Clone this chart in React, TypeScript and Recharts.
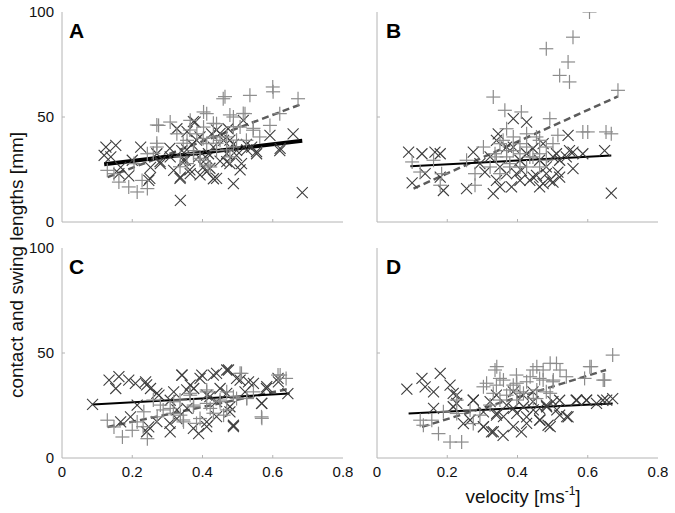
import React from "react";
import { ScatterChart, Scatter, XAxis, YAxis, ReferenceLine } from "recharts";

type Pt = [number, number];

// velocity [m/s], length [mm]
const aCross: Pt[] = [
  [0.12, 31.7], [0.153, 36.5], [0.139, 31], [0.167, 26], [0.224, 35.7], [0.19, 22], [0.247, 19.8],
  [0.27, 32.5], [0.28, 27.8], [0.337, 10.3], [0.327, 44.4], [0.341, 34], [0.351, 29.4], [0.337, 21.4],
  [0.379, 47.6], [0.393, 40.5], [0.403, 26.2], [0.417, 32.5], [0.431, 20.6], [0.44, 43.7], [0.46, 38.9],
  [0.469, 32.5], [0.488, 18.3], [0.478, 27.8], [0.511, 27.8], [0.516, 48.4], [0.554, 32.5], [0.592, 41.3],
  [0.62, 34], [0.658, 42], [0.684, 14], [0.365, 23], [0.389, 31], [0.412, 24], [0.45, 29], [0.488, 37],
  [0.525, 37], [0.308, 31], [0.318, 24.6], [0.252, 26], [0.2, 29.4], [0.162, 23], [0.125, 35.7],
  [0.356, 43], [0.426, 42], [0.37, 37], [0.431, 35.7], [0.497, 31.7], [0.54, 35.7], [0.473, 44.4],
  [0.374, 47.8], [0.345, 29.5], [0.364, 24.8], [0.336, 20.8], [0.393, 22.4], [0.421, 25.6], [0.44, 20.8],
  [0.412, 30.3], [0.469, 28.7], [0.497, 34.1], [0.526, 34.3], [0.554, 33.5], [0.621, 35.1], [0.279, 28.7],
  [0.25, 20.8], [0.45, 42.2], [0.478, 39], [0.383, 39], [0.507, 24.8], [0.355, 34.3], [0.307, 35.1],
];
const aPlus: Pt[] = [
  [0.6, 64.3], [0.535, 60.3], [0.459, 58.7], [0.672, 58.7], [0.403, 52.4], [0.412, 51.6], [0.308, 47.6],
  [0.275, 46], [0.488, 50], [0.521, 51.6], [0.62, 51.6], [0.592, 46], [0.544, 43.7], [0.44, 46.8],
  [0.384, 42], [0.356, 38.9], [0.375, 34], [0.412, 37.3], [0.44, 34], [0.469, 40.5], [0.488, 35.7],
  [0.337, 31], [0.27, 35.7], [0.243, 32.5], [0.205, 27.8], [0.148, 23], [0.129, 24.6], [0.162, 19],
  [0.19, 16.7], [0.214, 14.3], [0.243, 15.9], [0.228, 19.8], [0.356, 27.8], [0.393, 29.4], [0.422, 26.2],
  [0.45, 38.9], [0.507, 45.2], [0.365, 48.4], [0.327, 42], [0.525, 38.9], [0.563, 40.5], [0.403, 45.2],
  [0.431, 40.5], [0.478, 31], [0.464, 59.7], [0.601, 62], [0.478, 51], [0.516, 51.7], [0.27, 46.2],
  [0.431, 47], [0.488, 45.4], [0.545, 44.6], [0.364, 43.8], [0.402, 39.8], [0.44, 37.5], [0.345, 37.5],
  [0.374, 32.7], [0.469, 34.3], [0.27, 37.5], [0.26, 32.7], [0.393, 30.3], [0.497, 39], [0.336, 26.3],
  [0.416, 27.1],
];
const aCrossFit: Pt[] = [[0.12, 27.5], [0.684, 38.7]];
const aPlusFit: Pt[] = [[0.13, 21.4], [0.684, 56.3]];

const bCross: Pt[] = [
  [0.09, 33.3], [0.128, 32.5], [0.165, 33.3], [0.18, 32.5], [0.1, 18.6], [0.137, 23], [0.189, 15],
  [0.18, 21.4], [0.255, 15.9], [0.274, 33.3], [0.307, 23.8], [0.331, 13.5], [0.345, 42], [0.388, 49.2],
  [0.426, 47.6], [0.34, 19.8], [0.383, 16.7], [0.411, 24.6], [0.454, 22.2], [0.463, 16.7], [0.492, 19.8],
  [0.515, 23.8], [0.558, 25.4], [0.544, 41.3], [0.511, 32.5], [0.548, 34], [0.586, 32.5], [0.648, 34],
  [0.667, 13.8], [0.444, 35], [0.369, 35.7], [0.407, 29.4], [0.473, 37.3], [0.52, 29.4], [0.35, 26.2],
  [0.397, 23], [0.435, 19.8], [0.482, 26.2], [0.322, 31], [0.293, 27.8], [0.34, 38.9], [0.388, 35.7],
  [0.426, 32.5], [0.463, 29.4], [0.501, 31], [0.369, 23], [0.407, 19.8], [0.444, 21.4], [0.482, 23],
  [0.52, 21.4], [0.35, 16.7], [0.473, 18.3], [0.501, 19], [0.539, 31], [0.558, 33.3],
];
const bPlus: Pt[] = [
  [0.605, 100], [0.558, 88], [0.482, 82.5], [0.544, 76.2], [0.52, 69.8], [0.548, 66.7], [0.686, 62.7],
  [0.331, 59.5], [0.364, 53.2], [0.411, 52.4], [0.369, 44.4], [0.492, 49.2], [0.515, 41.3], [0.586, 42.9],
  [0.6, 42.9], [0.652, 42.9], [0.667, 42], [0.454, 40.5], [0.407, 37.3], [0.35, 37.3], [0.388, 34],
  [0.426, 35.7], [0.463, 32.5], [0.369, 31], [0.407, 26.2], [0.255, 29.4], [0.279, 23], [0.279, 17.5],
  [0.18, 17.5], [0.184, 23], [0.161, 29.4], [0.1, 28.6], [0.123, 23.8], [0.336, 32.5], [0.435, 31],
  [0.482, 35.7], [0.35, 23], [0.378, 27.8], [0.359, 38.9], [0.388, 40.5], [0.426, 42], [0.463, 38.9],
  [0.501, 37.3], [0.369, 34], [0.407, 32.5], [0.444, 31], [0.482, 29.4], [0.34, 31], [0.378, 26.2],
  [0.426, 26.2], [0.463, 26.2], [0.322, 26.2], [0.303, 35.7],
];
const bCrossFit: Pt[] = [[0.095, 26.5], [0.667, 31.7]];
const bPlusFit: Pt[] = [[0.104, 15.9], [0.686, 59.8]];

const cCross: Pt[] = [
  [0.087, 25.5], [0.134, 37.1], [0.162, 38.7], [0.153, 33.1], [0.19, 37.1], [0.209, 35.5], [0.238, 36.3],
  [0.252, 33.1], [0.276, 29.9], [0.214, 25.2], [0.195, 19.6], [0.247, 14.8], [0.308, 12.4], [0.342, 39.5],
  [0.365, 34.7], [0.393, 37.9], [0.431, 39.5], [0.469, 41.9], [0.497, 37.9], [0.545, 35.5], [0.582, 33.1],
  [0.615, 37.9], [0.643, 30.7], [0.568, 26], [0.488, 15.6], [0.389, 11.6], [0.327, 18.8], [0.308, 27.5],
  [0.412, 29.9], [0.45, 33.1], [0.478, 22], [0.356, 23.6], [0.412, 17.2], [0.521, 31.5], [0.167, 17.2],
  [0.375, 33.1], [0.318, 31.5], [0.44, 26.8], [0.341, 39.5], [0.398, 39.5], [0.44, 40.3], [0.474, 41.9],
  [0.507, 37.1], [0.531, 36.3], [0.241, 34.8], [0.27, 30.8], [0.355, 32.4], [0.421, 29.2], [0.469, 30.8],
  [0.569, 26], [0.583, 34], [0.616, 36.3], [0.241, 12.5], [0.307, 16.5], [0.374, 14.1], [0.412, 14.9],
  [0.488, 14.9], [0.44, 19.7], [0.27, 17.3], [0.327, 22.9], [0.478, 24.4],
];
const cPlus: Pt[] = [
  [0.638, 37.9], [0.615, 39.5], [0.511, 40.3], [0.568, 19.6], [0.545, 31.5], [0.129, 18], [0.148, 14.8],
  [0.172, 10], [0.2, 13.2], [0.243, 9.2], [0.214, 17.2], [0.271, 19.6], [0.308, 23.6], [0.337, 20.4],
  [0.375, 25.2], [0.393, 18.8], [0.422, 23.6], [0.45, 26.8], [0.46, 20.4], [0.497, 28.3], [0.365, 29.9],
  [0.412, 31.5], [0.346, 17.2], [0.318, 26.8], [0.469, 31.5], [0.526, 28.3], [0.28, 25.2], [0.233, 22],
  [0.507, 40.3], [0.621, 39.5], [0.569, 18.9], [0.336, 27.6], [0.374, 24.4], [0.412, 26], [0.45, 27.6],
  [0.488, 29.2], [0.526, 28.4], [0.345, 18.1], [0.383, 16.5], [0.317, 21.3], [0.431, 21.3], [0.469, 22.9],
  [0.288, 22.9], [0.26, 27.6], [0.231, 14.9], [0.364, 30.8], [0.412, 32.4],
];
const cCrossFit: Pt[] = [[0.087, 25.5], [0.648, 30.7]];
const cPlusFit: Pt[] = [[0.13, 14.8], [0.648, 33]];

const dCross: Pt[] = [
  [0.085, 32.8], [0.128, 37.9], [0.137, 33.9], [0.161, 31.5], [0.18, 40.3], [0.208, 34.7], [0.227, 29.9],
  [0.217, 24.4], [0.246, 16.4], [0.274, 27.5], [0.303, 14.8], [0.326, 12.4], [0.359, 10.8], [0.411, 12.4],
  [0.34, 20.4], [0.388, 23.6], [0.426, 19.6], [0.463, 18], [0.487, 15.6], [0.52, 20.4], [0.544, 19.6],
  [0.52, 27.5], [0.567, 27.5], [0.596, 27.5], [0.643, 27.5], [0.671, 28.3], [0.501, 26.8], [0.444, 26.8],
  [0.369, 25.2], [0.322, 26.8], [0.388, 31.5], [0.463, 23.6], [0.416, 29.9], [0.34, 29.9], [0.161, 23.6],
  [0.482, 25.2], [0.444, 31.5], [0.303, 22], [0.217, 30.8], [0.227, 26], [0.274, 27.6], [0.303, 14.9],
  [0.331, 12.5], [0.388, 14.9], [0.426, 16.5], [0.464, 18.1], [0.493, 14.9], [0.54, 19.7], [0.569, 27.6],
  [0.597, 27.6], [0.625, 26], [0.654, 27.6], [0.36, 19.7], [0.398, 21.3], [0.445, 22.9], [0.512, 22.9],
  [0.483, 24.4], [0.265, 18.1], [0.341, 21.3], [0.417, 24.4],
];
const dPlus: Pt[] = [
  [0.671, 49], [0.61, 43.5], [0.648, 37.1], [0.591, 37.9], [0.511, 45], [0.473, 41.9], [0.444, 41.9],
  [0.336, 41.9], [0.303, 33.9], [0.34, 34.7], [0.388, 34.7], [0.426, 36.3], [0.463, 37.9], [0.501, 36.3],
  [0.539, 38.7], [0.369, 29.9], [0.407, 31.5], [0.322, 25.2], [0.293, 20.4], [0.274, 16.4], [0.208, 7.6],
  [0.241, 7.6], [0.175, 11.6], [0.132, 15.6], [0.156, 18], [0.123, 18], [0.189, 22], [0.227, 21.2],
  [0.454, 28.3], [0.482, 31.5], [0.35, 37.9], [0.397, 39.5], [0.341, 43.5], [0.455, 43.5], [0.493, 45.1],
  [0.521, 41.9], [0.606, 43.5], [0.644, 37.1], [0.312, 35.6], [0.36, 37.1], [0.398, 35.6], [0.436, 38.7],
  [0.473, 37.1], [0.502, 37.1], [0.331, 30.8], [0.379, 32.4], [0.417, 30.8], [0.455, 32.4], [0.493, 30.8],
  [0.35, 27.6], [0.398, 27.6], [0.445, 28.4], [0.265, 22.9], [0.227, 27.6],
];
const dCrossFit: Pt[] = [[0.09, 21.2], [0.671, 26]];
const dPlusFit: Pt[] = [[0.128, 14.8], [0.652, 41.9]];

const X_TICKS = [0, 0.2, 0.4, 0.6, 0.8];
const Y_TICKS = [0, 50, 100];

const FONT = "'Liberation Sans', Arial, sans-serif";
const BORDER = "#b4b4b4";
const CROSS_COLOR = "#3c3c3c";
const PLUS_COLOR = "#8c8c8c";
const DASH_COLOR = "#5c5c5c";
const TS = 6;
const TM = 2;
const OFF = TS + TM;

const toObj = (pts: Pt[]) => pts.map(([x, y]) => ({ x, y }));

const Cross = (p: any) => {
  const { cx, cy } = p;
  const r = 5.5;
  return (
    <g stroke={CROSS_COLOR} strokeWidth={1.1}>
      <line x1={cx - r} y1={cy - r} x2={cx + r} y2={cy + r} />
      <line x1={cx - r} y1={cy + r} x2={cx + r} y2={cy - r} />
    </g>
  );
};

const Plus = (p: any) => {
  const { cx, cy } = p;
  const r = 7;
  return (
    <g stroke={PLUS_COLOR} strokeWidth={1.2}>
      <line x1={cx - r} y1={cy} x2={cx + r} y2={cy} />
      <line x1={cx} y1={cy - r} x2={cx} y2={cy + r} />
    </g>
  );
};

const inner = (v: number, lo: number, hi: number) => v > lo && v < hi;

const bottomTick = (show: boolean) => (p: any) => {
  const { x, y, payload } = p;
  return (
    <g>
      {inner(payload.value, 0, 0.8) && <line x1={x} x2={x} y1={y - OFF} y2={y - OFF - 3} stroke={BORDER} />}
      {show && (
        <text x={x} y={y} dy="0.71em" textAnchor="middle" fontSize={15} fill="#111" fontFamily={FONT}>
          {String(payload.value)}
        </text>
      )}
    </g>
  );
};

const topTick = (p: any) => {
  const { x, y, payload } = p;
  if (!inner(payload.value, 0, 0.8)) return <g />;
  return <line x1={x} x2={x} y1={y + OFF} y2={y + OFF + 3} stroke={BORDER} />;
};

const leftTick = (show: boolean) => (p: any) => {
  const { x, y, payload } = p;
  return (
    <g>
      {inner(payload.value, 0, 100) && <line x1={x + OFF} x2={x + OFF + 3} y1={y} y2={y} stroke={BORDER} />}
      {show && (
        <text x={x} y={y} dy="0.36em" textAnchor="end" fontSize={15} fill="#111" fontFamily={FONT}>
          {String(payload.value)}
        </text>
      )}
    </g>
  );
};

const rightTick = (p: any) => {
  const { x, y, payload } = p;
  if (!inner(payload.value, 0, 100)) return <g />;
  return <line x1={x - OFF} x2={x - OFF - 3} y1={y} y2={y} stroke={BORDER} />;
};

type PanelProps = {
  left: number;
  top: number;
  cross: Pt[];
  plus: Pt[];
  crossFit: Pt[];
  plusFit: Pt[];
  showX: boolean;
  showY: boolean;
  fitWidth: number;
};

function Panel({ left, top, cross, plus, crossFit, plusFit, showX, showY, fitWidth }: PanelProps) {
  return (
    <div style={{ position: "absolute", left, top }}>
      <ScatterChart width={331} height={250} margin={{ top: 10, right: 10, left: 0, bottom: 0 }}>
        <XAxis
          type="number"
          dataKey="x"
          domain={[0, 0.8]}
          ticks={X_TICKS}
          interval={0}
          height={30}
          tickSize={TS}
          tickMargin={TM}
          axisLine={{ stroke: BORDER }}
          tickLine={false}
          tick={bottomTick(showX)}
          allowDataOverflow
        />
        <XAxis
          xAxisId="top"
          orientation="top"
          type="number"
          domain={[0, 0.8]}
          ticks={X_TICKS}
          interval={0}
          height={0}
          tickSize={TS}
          tickMargin={TM}
          axisLine={{ stroke: BORDER }}
          tickLine={false}
          tick={topTick}
          allowDataOverflow
        />
        <YAxis
          type="number"
          dataKey="y"
          domain={[0, 100]}
          ticks={Y_TICKS}
          interval={0}
          width={40}
          tickSize={TS}
          tickMargin={TM}
          axisLine={{ stroke: BORDER }}
          tickLine={false}
          tick={leftTick(showY)}
          allowDataOverflow
        />
        <YAxis
          yAxisId="right"
          orientation="right"
          type="number"
          domain={[0, 100]}
          ticks={Y_TICKS}
          interval={0}
          width={0}
          tickSize={TS}
          tickMargin={TM}
          axisLine={{ stroke: BORDER }}
          tickLine={false}
          tick={rightTick}
          allowDataOverflow
        />
        <Scatter data={toObj(cross)} shape={Cross} isAnimationActive={false} />
        <Scatter data={toObj(plus)} shape={Plus} isAnimationActive={false} />
        <ReferenceLine
          segment={toObj(plusFit)}
          stroke={DASH_COLOR}
          strokeWidth={2.5}
          strokeDasharray="7 4"
        />
        <ReferenceLine segment={toObj(crossFit)} stroke="#000" strokeWidth={fitWidth} />
      </ScatterChart>
    </div>
  );
}

export default function App() {
  return (
    <div style={{ position: "absolute", left: 0, top: 0, width: 675, height: 513, background: "#fff" }}>
      <Panel left={22} top={2} cross={aCross} plus={aPlus} crossFit={aCrossFit} plusFit={aPlusFit} showX={false} showY fitWidth={4} />
      <Panel left={337} top={2} cross={bCross} plus={bPlus} crossFit={bCrossFit} plusFit={bPlusFit} showX={false} showY={false} fitWidth={2} />
      <Panel left={22} top={238} cross={cCross} plus={cPlus} crossFit={cCrossFit} plusFit={cPlusFit} showX showY fitWidth={2} />
      <Panel left={337} top={238} cross={dCross} plus={dPlus} crossFit={dCrossFit} plusFit={dPlusFit} showX showY={false} fitWidth={2} />
      <svg width={675} height={513} style={{ position: "absolute", left: 0, top: 0, pointerEvents: "none" }}>
        <g fontFamily={FONT} fontWeight="bold" fontSize={21} fill="#000">
          <text x={69} y={38}>A</text>
          <text x={386} y={38}>B</text>
          <text x={69} y={274}>C</text>
          <text x={386} y={274}>D</text>
        </g>
        <text
          transform="translate(23,265) rotate(-90)"
          textAnchor="middle"
          fontFamily={FONT}
          fontSize={19}
          fill="#111"
        >
          contact and swing lengths [mm]
        </text>
        <text x={523} y={503} textAnchor="middle" fontFamily={FONT} fontSize={19} fill="#111">
          velocity [ms<tspan fontSize={12} dy={-8}>-1</tspan><tspan dy={8}>]</tspan>
        </text>
      </svg>
    </div>
  );
}
